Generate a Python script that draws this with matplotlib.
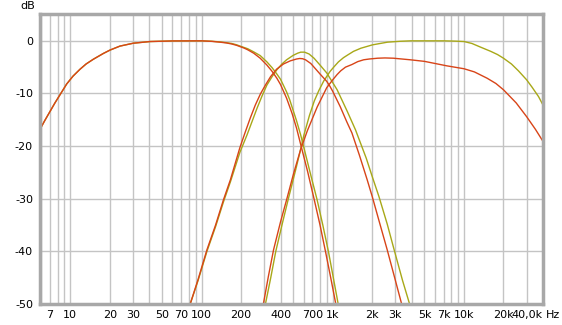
import matplotlib
matplotlib.use("Agg")
import matplotlib.pyplot as plt
from matplotlib.ticker import FixedLocator, NullFormatter

# woofer (low-pass with subsonic roll-off)
woofer_f_red = [5.88, 6.41, 7.64, 9.39, 10.5, 11.86, 13.2, 14.98, 17.86, 20.1, 23.9, 30.2, 40.6, 60, 100, 120,
                138, 155, 170, 185, 197, 210, 225, 250, 280, 315, 345, 375, 400, 445, 490, 530, 570, 643,
                720, 800, 880, 965, 1055]
woofer_db_red = [-16.8, -15.1, -11.8, -8.2, -6.7, -5.4, -4.4, -3.5, -2.4, -1.75, -1.0, -0.45, -0.13, -0.02, 0, -0.1,
                 -0.25, -0.4, -0.6, -0.85, -1.1, -1.35, -1.7, -2.35, -3.3, -4.6, -5.8, -7.1, -8.3, -10.9, -13.8, -16.6, -19.7, -24.8,
                 -30, -35, -40, -45, -50]
woofer_f_olive = [5.88, 6.41, 7.64, 9.39, 10.5, 11.86, 13.2, 14.98, 17.86, 20.1, 23.9, 30.2, 40.6, 60, 100, 120,
                  138, 155, 170, 185, 197, 225, 250, 280, 315, 345, 375, 400, 445, 470, 530, 570, 600, 680,
                  760, 840, 930, 1010, 1100]
woofer_db_olive = [-16.8, -15.1, -11.8, -8.2, -6.7, -5.4, -4.4, -3.5, -2.4, -1.75, -1.0, -0.45, -0.13, -0.02, 0, -0.08,
                   -0.2, -0.35, -0.5, -0.75, -1.0, -1.5, -2.1, -2.8, -4.0, -5.1, -6.3, -7.3, -9.7, -11.2, -15.2, -17.9, -20.1, -25.5,
                   -30.2, -35.0, -40.2, -45, -50]

# midrange (band-pass)
mid_f_red = [82, 94, 110, 128, 147, 166, 196, 215, 235, 257, 281, 307, 336, 373, 421, 475, 530, 560, 590,
             620, 680, 750, 800, 900, 950, 1000, 1140, 1280, 1400, 1600, 1830, 2000, 2300, 2600, 3000, 3350]
mid_db_red = [-50, -45.4, -39.7, -35, -30.2, -26.4, -20.3, -17.4, -14.7, -12.2, -10.1, -8.4, -6.8, -5.4, -4.4, -3.8, -3.45, -3.35, -3.4,
              -3.6, -4.3, -5.5, -6.3, -7.7, -8.6, -9.6, -12.5, -15.4, -17.5, -21.8, -26.4, -29.6, -35, -39.7, -45.5, -50]
mid_f_olive = [82, 94, 110, 128, 147, 166, 196, 222, 243, 265, 290, 315, 345, 375, 410, 445, 500, 540, 570,
               610, 660, 720, 800, 900, 1080, 1290, 1490, 1800, 2000, 2250, 2600, 2900, 3400, 3850]
mid_db_olive = [-50, -45.6, -40, -35.3, -30.6, -26.8, -21.2, -17.9, -15.3, -12.8, -10.4, -8.4, -6.8, -5.5, -4.4, -3.6, -2.75, -2.35, -2.15,
                -2.15, -2.5, -3.3, -4.6, -6.1, -9.3, -13.4, -16.9, -22.3, -25.8, -29.6, -34.8, -39.2, -45.5, -50]

# tweeter (high-pass)
tw_f_red = [296, 323, 354, 400, 445, 502, 570, 640, 760, 900, 1000, 1080, 1150, 1250, 1400, 1550, 1720, 1900,
            2200, 2500, 2900, 3900, 5000, 7400, 10000, 12000, 15000, 17500, 20000, 25000, 30000, 35000, 40000]
tw_db_red = [-50, -44.8, -39.7, -34.4, -30.2, -25.3, -20.6, -17.1, -12.6, -8.9, -7.4, -6.4, -5.7, -5.0, -4.5, -3.95, -3.6, -3.45,
             -3.3, -3.25, -3.3, -3.6, -3.9, -4.75, -5.3, -5.9, -7.1, -8.1, -9.3, -11.8, -14.4, -16.8, -19.1]
tw_f_olive = [307, 337, 368, 412, 459, 523, 563, 603, 664, 724, 785, 855, 955, 1025, 1105, 1207, 1297, 1439,
              1639, 2009, 2616, 3269, 3918, 7000, 8500, 10000, 11500, 13100, 16000, 18000, 20000, 23000, 26000,
              30000, 33000, 37000, 40000]
tw_db_olive = [-50, -45, -40, -34.8, -30, -24.4, -21.1, -17.9, -14.2, -11.4, -9.4, -7.6, -5.8, -4.9, -4.0, -3.2, -2.7, -2.0,
               -1.4, -0.76, -0.25, -0.08, 0, 0, -0.05, -0.13, -0.5, -1.1, -2.0, -2.6, -3.3, -4.4, -5.7,
               -7.4, -8.8, -10.6, -12.2]

x_ticks = [7, 10, 20, 30, 50, 70, 100, 200, 400, 700, 1000, 2000, 3000, 5000, 7000, 10000, 20000, 40000]
x_labels = ["7", "10", "20", "30", "50", "70", "100", "200", "400", "700", "1k", "2k", "3k",
            "5k", "7k", "10k", "20k", "40,0k"]
y_ticks = [0, -10, -20, -30, -40, -50]

OLIVE = "#a8a818"
RED = "#d84418"
GRID = "#c4c4c4"

fig = plt.figure(figsize=(5.62, 3.25), dpi=100)
ax = fig.add_axes([40 / 562, 1 - 304 / 325, 503 / 562, 290 / 325])

ax.plot(woofer_f_olive, woofer_db_olive, color=OLIVE, lw=1.0)
ax.plot(mid_f_olive, mid_db_olive, color=OLIVE, lw=1.0)
ax.plot(tw_f_olive, tw_db_olive, color=OLIVE, lw=1.0)
ax.plot(woofer_f_red, woofer_db_red, color=RED, lw=1.0)
ax.plot(mid_f_red, mid_db_red, color=RED, lw=1.0)
ax.plot(tw_f_red, tw_db_red, color=RED, lw=1.0)

ax.set_xscale("log")
ax.set_xlim(5.88, 40000)
ax.set_ylim(-50, 5.1)

# grid lines on every 1..9 step of each decade
minor = [m * 10 ** e for e in range(0, 5) for m in range(1, 10)]
minor = [v for v in minor if 5.88 < v < 40000 and v not in x_ticks]
ax.xaxis.set_major_locator(FixedLocator(x_ticks))
ax.xaxis.set_minor_locator(FixedLocator(minor))
ax.xaxis.set_minor_formatter(NullFormatter())
ax.set_xticklabels(x_labels)
ax.set_yticks(y_ticks)
ax.set_yticklabels([str(v) for v in y_ticks])

ax.grid(True, which="both", axis="x", color=GRID, lw=1.0)
ax.grid(True, which="major", axis="y", color=GRID, lw=1.0)
ax.set_axisbelow(True)
ax.tick_params(which="both", length=0, labelsize=8, colors="#000000")
ax.tick_params(axis="x", pad=4)
ax.tick_params(axis="y", pad=5)
ax.get_xticklabels()[-1].set_horizontalalignment("right")

for s in ax.spines.values():
    s.set_color("#a8a8a8")
    s.set_linewidth(2.5)

fig.text(35 / 562, 1 - 6 / 325, "dB", fontsize=8, ha="right", va="center")
fig.text(546 / 562, 1 - 314.5 / 325, "Hz", fontsize=8, ha="left", va="center")

fig.savefig("out.png", dpi=100)
